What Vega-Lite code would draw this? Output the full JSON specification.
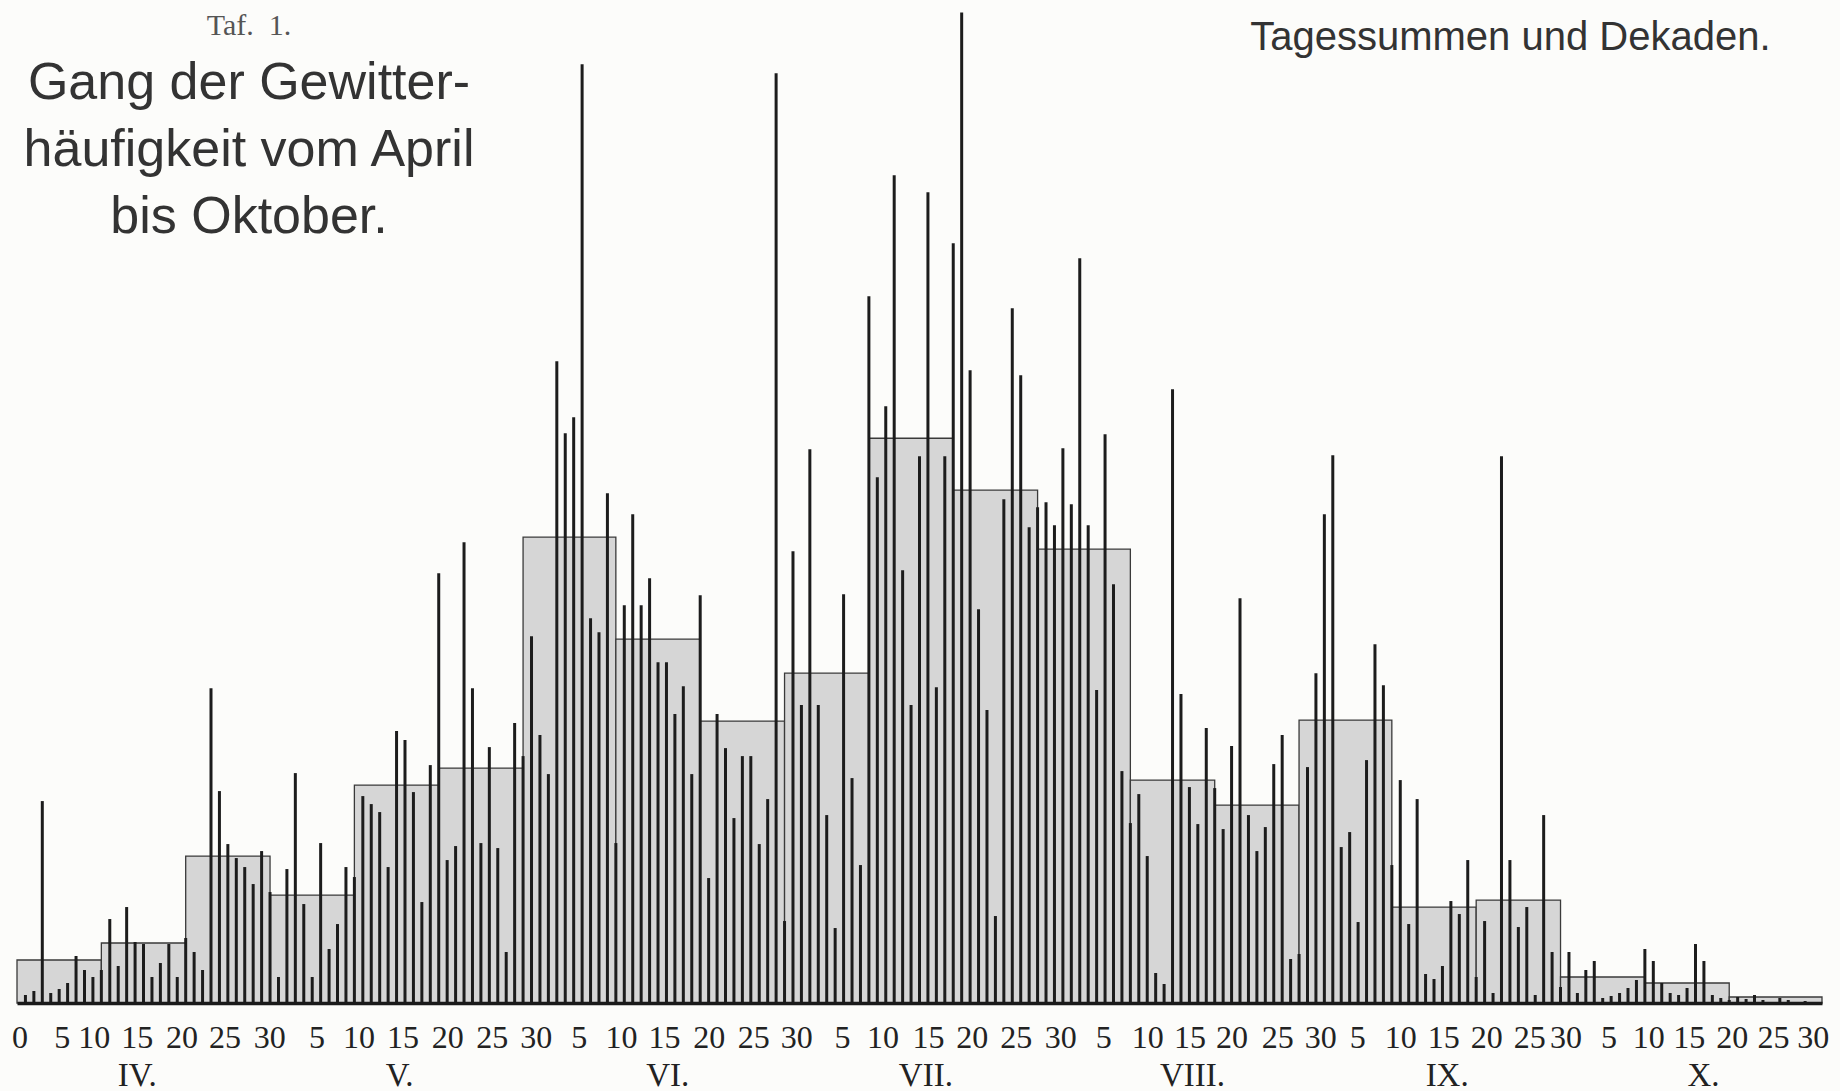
{
  "$schema": "https://vega.github.io/schema/vega-lite/v6.json",
  "width": 1805,
  "height": 1003,
  "autosize": {"type": "none"},
  "padding": {"left": 17, "top": 0, "right": 18, "bottom": 88},
  "background": "#fcfcfa",
  "config": {"view": {"stroke": null}, "axis": {"grid": false}},
  "title": {
    "text": "Taf.\u00a0\u00a01.",
    "subtitle": ["Gang der Gewitter-", "häufigkeit vom April", "bis Oktober."],
    "anchor": "start",
    "frame": "group",
    "orient": "top",
    "align": "center",
    "dx": 232,
    "dy": 243,
    "offset": 0,
    "font": "Liberation Serif",
    "fontSize": 30,
    "fontWeight": "normal",
    "color": "#555555",
    "subtitleFont": "Liberation Sans",
    "subtitleFontSize": 52,
    "subtitleFontWeight": "normal",
    "subtitleColor": "#333333",
    "subtitleLineHeight": 67,
    "subtitlePadding": 17
  },
  "datasets": {
    "decades": [
      {"start": 0, "end": 10, "mean": 4.3},
      {"start": 10, "end": 20, "mean": 6.0},
      {"start": 20, "end": 30, "mean": 14.7},
      {"start": 30, "end": 40, "mean": 10.8},
      {"start": 40, "end": 50, "mean": 21.8},
      {"start": 50, "end": 60, "mean": 23.5},
      {"start": 60, "end": 71, "mean": 46.6},
      {"start": 71, "end": 81, "mean": 36.4},
      {"start": 81, "end": 91, "mean": 28.2},
      {"start": 91, "end": 101, "mean": 33.0},
      {"start": 101, "end": 111, "mean": 56.5},
      {"start": 111, "end": 121, "mean": 51.3},
      {"start": 121, "end": 132, "mean": 45.4},
      {"start": 132, "end": 142, "mean": 22.3},
      {"start": 142, "end": 152, "mean": 19.8},
      {"start": 152, "end": 163, "mean": 28.3},
      {"start": 163, "end": 173, "mean": 9.6},
      {"start": 173, "end": 183, "mean": 10.3},
      {"start": 183, "end": 193, "mean": 2.6},
      {"start": 193, "end": 203, "mean": 2.0},
      {"start": 203, "end": 214, "mean": 0.6}
    ],
    "days": [
      {"day": 1, "count": 0.8}, {"day": 2, "count": 1.2}, {"day": 3, "count": 20.2}, {"day": 4, "count": 1.0}, {"day": 5, "count": 1.4},
      {"day": 6, "count": 2.0}, {"day": 7, "count": 4.7}, {"day": 8, "count": 3.3}, {"day": 9, "count": 2.6}, {"day": 10, "count": 3.3},
      {"day": 11, "count": 8.4}, {"day": 12, "count": 3.7}, {"day": 13, "count": 9.6}, {"day": 14, "count": 6.1}, {"day": 15, "count": 5.9},
      {"day": 16, "count": 2.6}, {"day": 17, "count": 4.0}, {"day": 18, "count": 5.9}, {"day": 19, "count": 2.6}, {"day": 20, "count": 6.5},
      {"day": 21, "count": 5.1}, {"day": 22, "count": 3.3}, {"day": 23, "count": 31.5}, {"day": 24, "count": 21.2}, {"day": 25, "count": 15.9},
      {"day": 26, "count": 14.5}, {"day": 27, "count": 13.6}, {"day": 28, "count": 11.9}, {"day": 29, "count": 15.2}, {"day": 30, "count": 11.1},
      {"day": 31, "count": 2.6}, {"day": 32, "count": 13.4}, {"day": 33, "count": 23.0}, {"day": 34, "count": 9.9}, {"day": 35, "count": 2.6},
      {"day": 36, "count": 16.0}, {"day": 37, "count": 5.4}, {"day": 38, "count": 7.9}, {"day": 39, "count": 13.6}, {"day": 40, "count": 12.6},
      {"day": 41, "count": 20.7}, {"day": 42, "count": 19.9}, {"day": 43, "count": 19.1}, {"day": 44, "count": 13.6}, {"day": 45, "count": 27.2},
      {"day": 46, "count": 26.3}, {"day": 47, "count": 21.1}, {"day": 48, "count": 10.1}, {"day": 49, "count": 23.8}, {"day": 50, "count": 43.0},
      {"day": 51, "count": 14.3}, {"day": 52, "count": 15.7}, {"day": 53, "count": 46.1}, {"day": 54, "count": 31.5}, {"day": 55, "count": 16.0},
      {"day": 56, "count": 25.6}, {"day": 57, "count": 15.5}, {"day": 58, "count": 5.1}, {"day": 59, "count": 28.0}, {"day": 60, "count": 24.7},
      {"day": 61, "count": 36.7}, {"day": 62, "count": 26.8}, {"day": 63, "count": 22.9}, {"day": 64, "count": 64.2}, {"day": 65, "count": 57.0},
      {"day": 66, "count": 58.6}, {"day": 67, "count": 93.9}, {"day": 68, "count": 38.5}, {"day": 69, "count": 37.1}, {"day": 70, "count": 51.0},
      {"day": 71, "count": 16.0}, {"day": 72, "count": 39.8}, {"day": 73, "count": 48.9}, {"day": 74, "count": 39.8}, {"day": 75, "count": 42.5},
      {"day": 76, "count": 34.1}, {"day": 77, "count": 34.1}, {"day": 78, "count": 28.9}, {"day": 79, "count": 31.7}, {"day": 80, "count": 22.9},
      {"day": 81, "count": 40.8}, {"day": 82, "count": 12.5}, {"day": 83, "count": 28.9}, {"day": 84, "count": 25.5}, {"day": 85, "count": 18.5},
      {"day": 86, "count": 24.7}, {"day": 87, "count": 24.7}, {"day": 88, "count": 15.9}, {"day": 89, "count": 20.4}, {"day": 90, "count": 93.0},
      {"day": 91, "count": 8.2}, {"day": 92, "count": 45.2}, {"day": 93, "count": 29.8}, {"day": 94, "count": 55.4}, {"day": 95, "count": 29.8},
      {"day": 96, "count": 18.8}, {"day": 97, "count": 7.5}, {"day": 98, "count": 40.9}, {"day": 99, "count": 22.5}, {"day": 100, "count": 13.8},
      {"day": 101, "count": 70.7}, {"day": 102, "count": 52.6}, {"day": 103, "count": 59.7}, {"day": 104, "count": 82.8}, {"day": 105, "count": 43.3},
      {"day": 106, "count": 29.8}, {"day": 107, "count": 54.7}, {"day": 108, "count": 81.1}, {"day": 109, "count": 31.6}, {"day": 110, "count": 54.7},
      {"day": 111, "count": 76.0}, {"day": 112, "count": 99.1}, {"day": 113, "count": 63.3}, {"day": 114, "count": 39.4}, {"day": 115, "count": 29.3},
      {"day": 116, "count": 8.7}, {"day": 117, "count": 50.4}, {"day": 118, "count": 69.5}, {"day": 119, "count": 62.8}, {"day": 120, "count": 47.6},
      {"day": 121, "count": 49.6}, {"day": 122, "count": 50.1}, {"day": 123, "count": 47.8}, {"day": 124, "count": 55.5}, {"day": 125, "count": 49.9},
      {"day": 126, "count": 74.5}, {"day": 127, "count": 47.8}, {"day": 128, "count": 31.3}, {"day": 129, "count": 56.9}, {"day": 130, "count": 41.9},
      {"day": 131, "count": 23.2}, {"day": 132, "count": 18.0}, {"day": 133, "count": 20.9}, {"day": 134, "count": 14.7}, {"day": 135, "count": 3.0},
      {"day": 136, "count": 1.9}, {"day": 137, "count": 61.4}, {"day": 138, "count": 30.9}, {"day": 139, "count": 21.6}, {"day": 140, "count": 17.9},
      {"day": 141, "count": 27.5}, {"day": 142, "count": 21.5}, {"day": 143, "count": 17.4}, {"day": 144, "count": 25.7}, {"day": 145, "count": 40.5},
      {"day": 146, "count": 18.8}, {"day": 147, "count": 15.2}, {"day": 148, "count": 17.6}, {"day": 149, "count": 23.9}, {"day": 150, "count": 26.8},
      {"day": 151, "count": 4.4}, {"day": 152, "count": 4.9}, {"day": 153, "count": 23.6}, {"day": 154, "count": 33.0}, {"day": 155, "count": 48.9},
      {"day": 156, "count": 54.8}, {"day": 157, "count": 15.6}, {"day": 158, "count": 17.1}, {"day": 159, "count": 8.1}, {"day": 160, "count": 24.3},
      {"day": 161, "count": 35.9}, {"day": 162, "count": 31.8}, {"day": 163, "count": 13.8}, {"day": 164, "count": 22.3}, {"day": 165, "count": 7.9},
      {"day": 166, "count": 20.4}, {"day": 167, "count": 2.9}, {"day": 168, "count": 2.4}, {"day": 169, "count": 3.7}, {"day": 170, "count": 10.2},
      {"day": 171, "count": 8.9}, {"day": 172, "count": 14.3}, {"day": 173, "count": 2.6}, {"day": 174, "count": 8.2}, {"day": 175, "count": 1.0},
      {"day": 176, "count": 54.7}, {"day": 177, "count": 14.3}, {"day": 178, "count": 7.6}, {"day": 179, "count": 9.6}, {"day": 180, "count": 0.8},
      {"day": 181, "count": 18.8}, {"day": 182, "count": 5.1}, {"day": 183, "count": 1.6}, {"day": 184, "count": 5.1}, {"day": 185, "count": 1.0},
      {"day": 186, "count": 3.3}, {"day": 187, "count": 4.2}, {"day": 188, "count": 0.5}, {"day": 189, "count": 0.7}, {"day": 190, "count": 1.0},
      {"day": 191, "count": 1.5}, {"day": 192, "count": 2.3}, {"day": 193, "count": 5.4}, {"day": 194, "count": 4.2}, {"day": 195, "count": 2.0},
      {"day": 196, "count": 1.0}, {"day": 197, "count": 0.8}, {"day": 198, "count": 1.5}, {"day": 199, "count": 5.9}, {"day": 200, "count": 4.2},
      {"day": 201, "count": 0.8}, {"day": 202, "count": 0.5}, {"day": 203, "count": 0.3}, {"day": 204, "count": 0.6}, {"day": 205, "count": 0.4},
      {"day": 206, "count": 0.8}, {"day": 207, "count": 0.3}, {"day": 208, "count": 0}, {"day": 209, "count": 0.5}, {"day": 210, "count": 0.3},
      {"day": 211, "count": 0}, {"day": 212, "count": 0.2}, {"day": 213, "count": 0}, {"day": 214, "count": 0}
    ]
  },
  "layer": [
    {
      "data": {"name": "decades"},
      "mark": {"type": "rect", "fill": "#d6d6d6", "stroke": "#3a3a3a", "strokeWidth": 1.3},
      "encoding": {
        "x": {
          "field": "start", "type": "quantitative",
          "scale": {"domain": [0, 214], "nice": false, "zero": false},
          "axis": {
            "orient": "bottom",
            "values": [0.3, 5.3, 9.1, 14.2, 19.5, 24.6, 29.9, 35.5, 40.5, 45.7, 51.0, 56.3, 61.5, 66.6, 71.6, 76.7, 82.0, 87.3, 92.4, 97.8, 102.6, 108.0, 113.2, 118.4, 123.7, 128.8, 134.0, 139.0, 144.0, 149.4, 154.5, 158.9, 164.0, 169.1, 174.2, 179.3, 183.6, 188.7, 193.4, 198.2, 203.3, 208.2, 212.9],
            "labelExpr": "['0','5','10','15','20','25','30','5','10','15','20','25','30','5','10','15','20','25','30','5','10','15','20','25','30','5','10','15','20','25','30','5','10','15','20','25','30','5','10','15','20','25','30'][round(datum.index * 42)]",
            "ticks": false,
            "domain": true,
            "domainColor": "#1a1a1a",
            "domainWidth": 3.5,
            "labelFont": "Liberation Serif",
            "labelFontSize": 32,
            "labelColor": "#222222",
            "labelPadding": 19,
            "labelOverlap": false,
            "labelBound": false,
            "labelFlush": false,
            "title": null,
            "grid": false,
            "zindex": 1
          }
        },
        "x2": {"field": "end"},
        "y": {
          "field": "mean", "type": "quantitative",
          "scale": {"domain": [0, 100.34], "nice": false},
          "axis": {
            "orient": "right", "domain": false, "ticks": false, "labels": false, "grid": false,
            "title": "Tagessummen und Dekaden.",
            "titleAngle": 0, "titleAlign": "right", "titleBaseline": "alphabetic",
            "titleX": -52, "titleY": 49,
            "titleFont": "Liberation Sans", "titleFontSize": 40, "titleFontWeight": "normal", "titleColor": "#333333"
          }
        },
        "y2": {"datum": 0}
      }
    },
    {
      "data": {"name": "days"},
      "mark": {"type": "rule", "color": "#1c1c1c", "strokeWidth": 3, "strokeCap": "butt"},
      "encoding": {
        "x": {
          "field": "day", "type": "quantitative",
          "axis": {
            "orient": "bottom",
            "values": [14.2, 45.3, 77.1, 107.7, 139.3, 169.5, 199.9],
            "labelExpr": "['IV.','V.','VI.','VII.','VIII.','IX.','X.'][round(datum.index * 6)]",
            "ticks": false,
            "domain": false,
            "labelFont": "Liberation Serif",
            "labelFontSize": 33,
            "labelColor": "#222222",
            "labelPadding": 56,
            "labelOverlap": false,
            "labelBound": false,
            "labelFlush": false,
            "title": null,
            "grid": false
          }
        },
        "y": {
          "field": "count", "type": "quantitative",
          "axis": {
            "orient": "right", "domain": false, "ticks": false, "labels": false, "grid": false,
            "title": "Tagessummen und Dekaden.",
            "titleAngle": 0, "titleAlign": "right", "titleBaseline": "alphabetic",
            "titleX": -52, "titleY": 49,
            "titleFont": "Liberation Sans", "titleFontSize": 40, "titleFontWeight": "normal", "titleColor": "#333333"
          }
        },
        "y2": {"datum": 0}
      }
    }
  ],
  "resolve": {"axis": {"x": "independent"}}
}
